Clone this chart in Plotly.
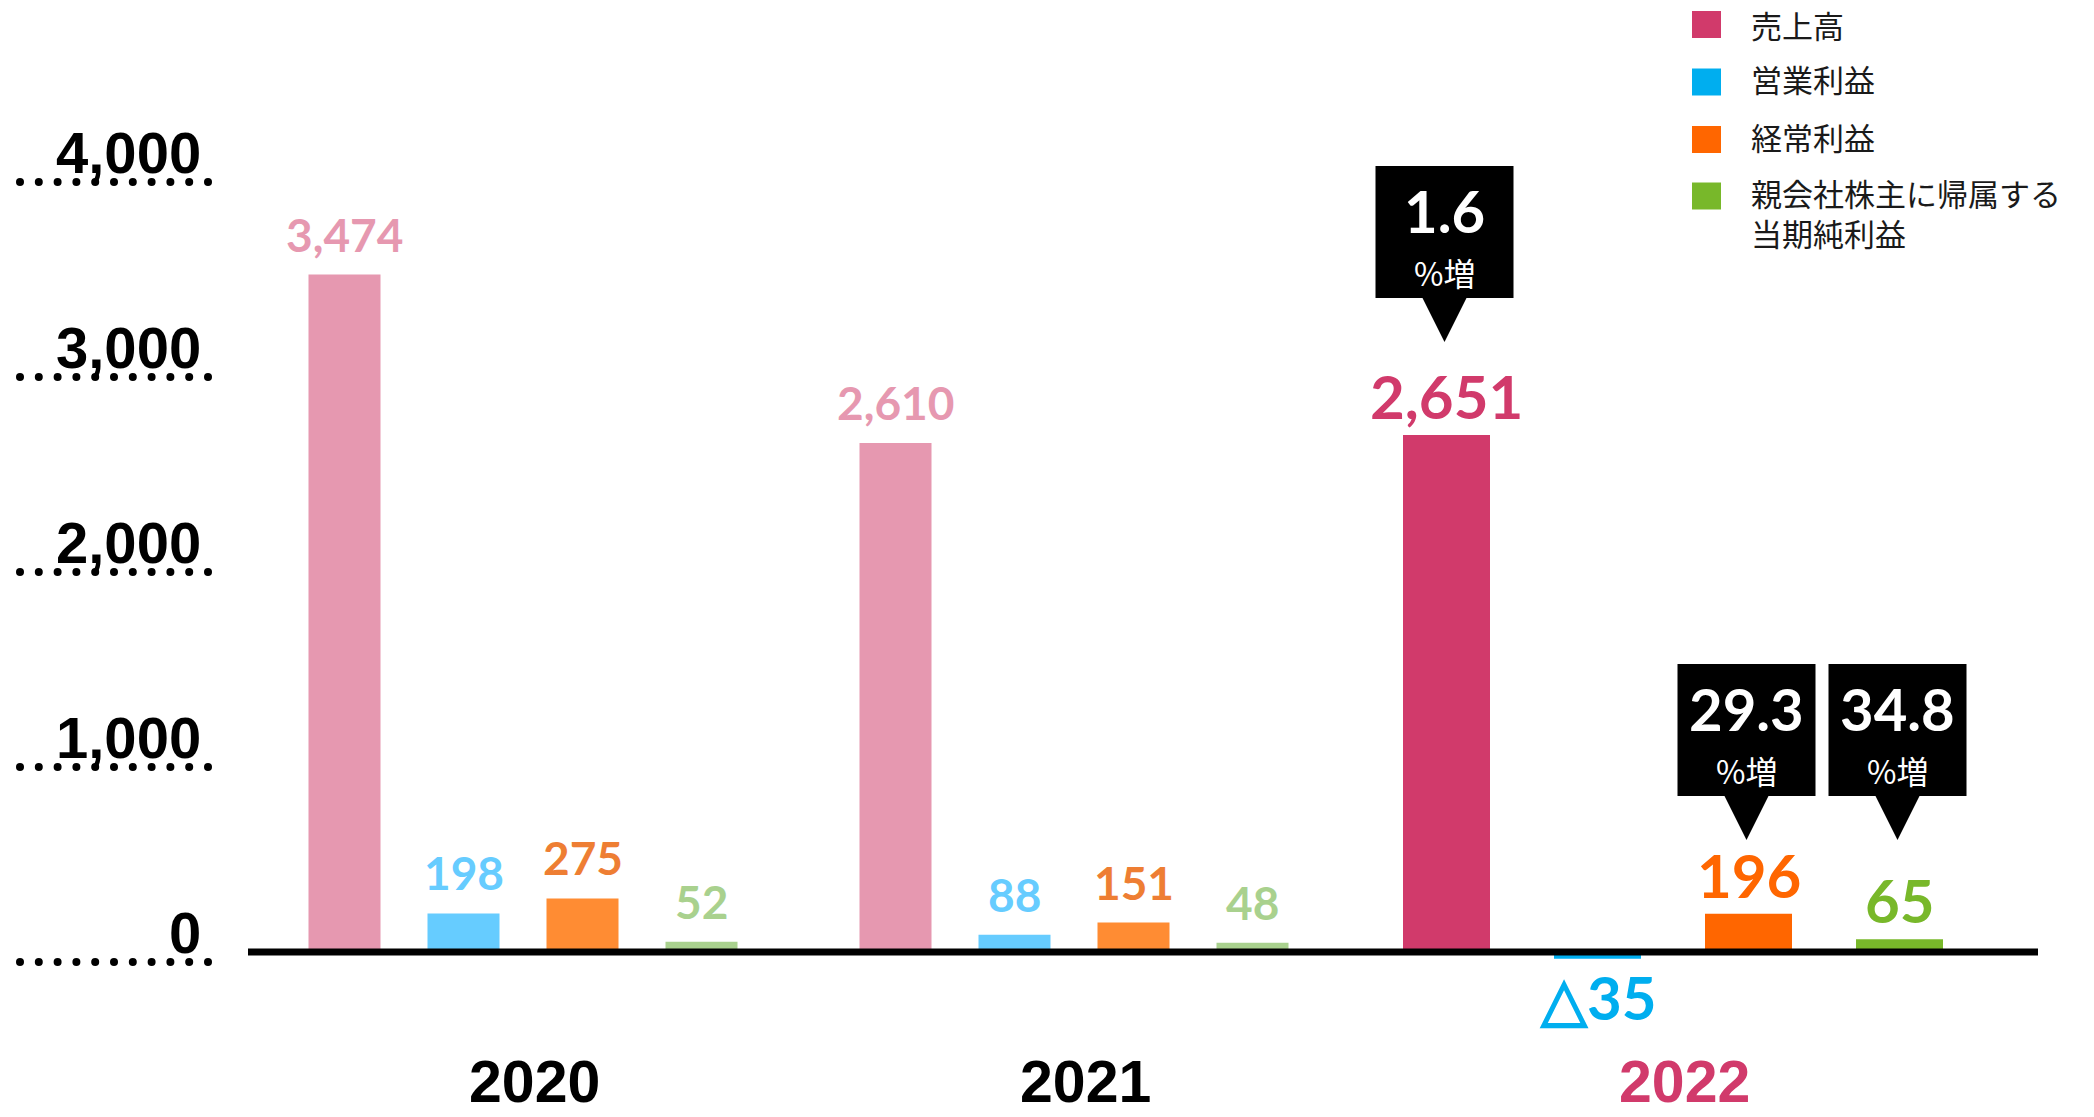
import plotly.graph_objects as go

# ---------------- data ----------------
years = ["2020", "2021", "2022"]
series_names = ["売上高", "営業利益", "経常利益", "親会社株主に帰属する<br>当期純利益"]
sales = [3474, 2610, 2651]
operating_profit = [198, 88, -35]
ordinary_profit = [275, 151, 196]
net_profit = [52, 48, 65]
series_values = [sales, operating_profit, ordinary_profit, net_profit]

# growth call-outs for 2022 (series index, growth %)
callout_series = [0, 2, 3]
callout_growth = ["1.6", "29.3", "34.8"]

ytick_vals = [0, 1000, 2000, 3000, 4000]

# ---------------- style ----------------
full_colors = ["#D13A6B", "#00AEEF", "#FF6600", "#78B82A"]
faded_bar = ["#E698B0", "#66CCFF", "#FF8C33", "#A9D18E"]
faded_label = ["#E698B0", "#66CCFF", "#EE7E33", "#A9D18E"]
year_colors = ["#000000", "#000000", "#D13A6B"]

W, H = 2094, 1117
Y0_PX = 952          # pixel row of value 0
K = 0.195            # pixels per unit
group_center = [523, 1074, 1673]
slot = [119, 119, 151]
bar_w = [72, 72, 87]
highlight = [False, False, True]

NUM_FONT = "Lato"
JP_FONT = "Noto Sans CJK JP"
AX_FONT = "Liberation Sans"


def yp(p):
    """pixel row -> paper fraction"""
    return 1 - p / H


fig = go.Figure()
annotations = []
shapes = []

bar_x = []
for j, (name, vals) in enumerate(zip(series_names, series_values)):
    xs = [group_center[g] + (j - 1.5) * slot[g] for g in range(len(years))]
    bar_x.append(xs)
    colors = [full_colors[j] if highlight[g] else faded_bar[j] for g in range(len(years))]
    fig.add_trace(go.Bar(
        x=xs, y=vals, width=[bar_w[g] for g in range(len(years))],
        marker=dict(color=colors, line=dict(width=0)),
        name=name.replace("<br>", ""), showlegend=False,
        hovertemplate="%{y:,}<extra>" + name.replace("<br>", "") + "</extra>",
    ))
    for g, v in enumerate(vals):
        txt = f"{v:,}" if v >= 0 else f"△{abs(v):,}"
        if highlight[g]:
            size, col = 60, full_colors[j]
            shift = 1 if v >= 0 else 0
        else:
            size, col = 46, faded_label[j]
            shift = 11
        annotations.append(dict(
            x=xs[g], y=v, xref="x", yref="y", text=txt, showarrow=False,
            xanchor="center", yanchor="bottom" if v >= 0 else "top",
            yshift=shift if v >= 0 else -shift,
            font=dict(family=NUM_FONT, size=size, color=col, weight=700),
        ))

# zero line
shapes.append(dict(type="line", xref="x", yref="y", x0=248, x1=2038, y0=0, y1=0,
                   line=dict(color="#000000", width=7), layer="above"))

# y tick labels with dotted underline
for v in ytick_vals:
    annotations.append(dict(
        x=203, y=v, xref="x", yref="y", text=f"{v:,}", showarrow=False,
        xanchor="right", yanchor="middle", yshift=20,
        font=dict(family=AX_FONT, size=58, color="#000000", weight=700),
    ))
    for d in range(11):
        cx = 20 + d * 18.8
        shapes.append(dict(type="circle", xref="x", yref="y", ysizemode="pixel",
                           yanchor=v, x0=cx - 4, x1=cx + 4, y0=-14, y1=-6,
                           fillcolor="#000000", line=dict(width=0)))

# year labels
for g, yr in enumerate(years):
    annotations.append(dict(
        x=group_center[g] + 11, y=yp(1082), xref="x", yref="paper", text=yr,
        showarrow=False, xanchor="center", yanchor="middle", borderpad=0,
        font=dict(family=AX_FONT, size=59, color=year_colors[g], weight=700),
    ))

# growth call-outs
tip_px = {0: 342, 2: 840, 3: 840}
for j, gtxt in zip(callout_series, callout_growth):
    tx = bar_x[j][2] - 2
    ty = tip_px[j]
    top, bot = ty - 176, ty - 44
    half = 69
    path = (f"M {tx - half},{yp(top)} L {tx + half},{yp(top)} L {tx + half},{yp(bot)} "
            f"L {tx + 22},{yp(bot)} L {tx},{yp(ty)} L {tx - 22},{yp(bot)} "
            f"L {tx - half},{yp(bot)} Z")
    shapes.append(dict(type="path", xref="x", yref="paper", path=path,
                       fillcolor="#000000", line=dict(width=0)))
    annotations.append(dict(
        x=tx, y=yp(top + 44), xref="x", yref="paper", text=gtxt, showarrow=False,
        xanchor="center", yanchor="middle", borderpad=0,
        font=dict(family=NUM_FONT, size=58, color="#FFFFFF", weight=700),
    ))
    annotations.append(dict(
        x=tx, y=yp(top + 106), xref="x", yref="paper", text="%増", showarrow=False,
        xanchor="center", yanchor="middle", borderpad=0,
        font=dict(family=JP_FONT, size=32, color="#FFFFFF"),
    ))

# custom legend
legend_rows = [24.5, 82, 139.5, 196]
for j, name in enumerate(series_names):
    cy = legend_rows[j]
    shapes.append(dict(type="rect", xref="x", yref="paper", x0=1692, x1=1721,
                       y0=yp(cy + 13.5), y1=yp(cy - 13.5),
                       fillcolor=full_colors[j], line=dict(width=0)))
    annotations.append(dict(
        x=1750, y=yp(max(cy - 27, 1)), xref="x", yref="paper", text=name, showarrow=False,
        xanchor="left", yanchor="top", align="left", borderpad=0,
        font=dict(family=JP_FONT, size=31, color="#1A1A1A"),
    ))

fig.update_layout(
    width=W, height=H, autosize=False,
    margin=dict(l=0, r=0, t=0, b=0),
    paper_bgcolor="#FFFFFF", plot_bgcolor="#FFFFFF",
    barmode="overlay", showlegend=False,
    xaxis=dict(range=[0, W], visible=False, fixedrange=True),
    yaxis=dict(range=[-(H - Y0_PX) / K, Y0_PX / K], visible=False, fixedrange=True),
    annotations=annotations, shapes=shapes,
)

fig.write_html("out.html", post_script="document.body.style.margin='0';",
               config={"displayModeBar": False})
